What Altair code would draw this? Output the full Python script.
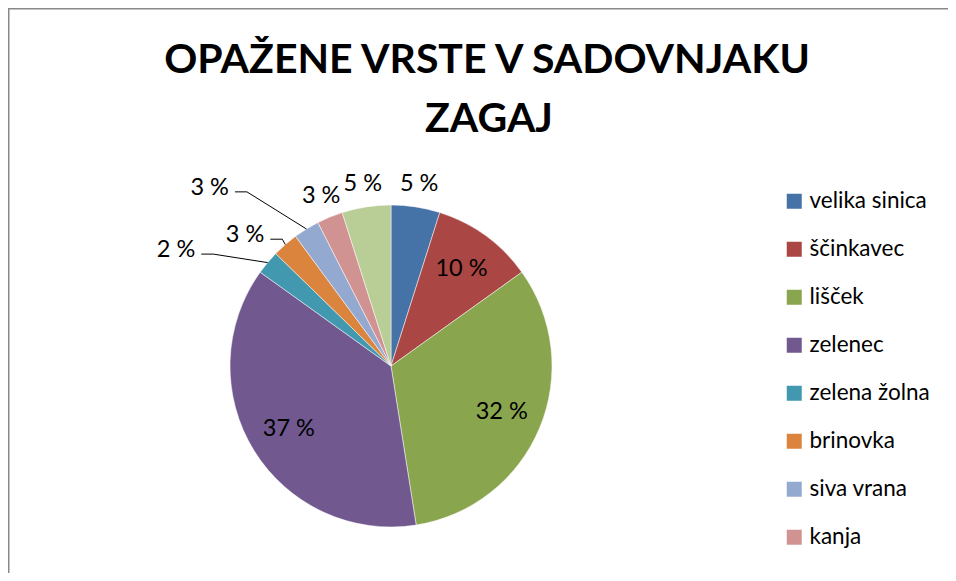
import math
import altair as alt
import pandas as pd

# ---- data ----
species = ["velika sinica", "ščinkavec", "lišček", "zelenec", "zelena žolna",
           "brinovka", "siva vrana", "kanja", "drugo"]
values = [4.9, 10.2, 32.4, 37.4, 2.4, 2.6, 2.6, 2.6, 4.9]
colors = ["#4572A7", "#AA4643", "#89A54E", "#71588F", "#4198AF",
          "#DB843D", "#93A9CF", "#D19392", "#B9CD96"]
legend_items = species[:8]
title_lines = ["OPAŽENE VRSTE V SADOVNJAKU", "ZAGAJ"]

# ---- layout / style ----
W, H = 940, 565
CX, CY, R = 383, 358, 161
placement = ["out", "in", "in", "in", "lead", "lead", "lead", "out", "out"]
# leader elbow positions (angle in degrees, radius in px)
lead_elbow = {"zelena žolna": (302.2, 210), "brinovka": (319.4, 167), "siva vrana": (320.4, 226)}
FONT = "Lato"

total = sum(values)
pct = [f"{round(v / total * 100)} %" for v in values]
df = pd.DataFrame({
    "name": species,
    "value": values,
    "idx": list(range(len(species))),
    "lab_in": [p if pl == "in" else "" for p, pl in zip(pct, placement)],
    "lab_out": [p if pl == "out" else "" for p, pl in zip(pct, placement)],
})

def polar(a_deg, r):
    a = math.radians(a_deg)
    return CX + r * math.sin(a), CY - r * math.cos(a)

line_rows, text_rows = [], []
cum = 0.0
for name, v, p, pl in zip(species, values, pct, placement):
    mid = (cum + v / 2) / total * 360
    cum += v
    if pl != "lead":
        continue
    ex, ey = polar(mid, R)
    bx, by = polar(*lead_elbow[name])
    hx = bx - 12
    line_rows += [
        {"name": name, "o": 0, "px": ex, "py": ey},
        {"name": name, "o": 1, "px": bx, "py": by},
        {"name": name, "o": 2, "px": hx, "py": by},
    ]
    text_rows.append({"name": name, "px": hx - 6, "py": by + 3, "t": p})
lines_df = pd.DataFrame(line_rows)
ltext_df = pd.DataFrame(text_rows)

theta = alt.Theta("value:Q", stack=True)
order = alt.Order("idx:Q")
cx, cy = alt.value(CX), alt.value(CY)

pie = alt.Chart(df).mark_arc(outerRadius=R, stroke="white", strokeWidth=0.5).encode(
    theta=theta, order=order, x=cx, y=cy,
    color=alt.Color(
        "name:N", sort=species,
        scale=alt.Scale(domain=species, range=colors),
        legend=alt.Legend(
            values=legend_items, orient="none", legendX=775, legendY=182, title=None,
            symbolType="square", symbolSize=225, symbolStrokeWidth=0,
            labelFont=FONT, labelFontSize=22.5, labelColor="black", labelOffset=4,
            rowPadding=25, labelLimit=300,
        ),
    ),
)

inside = alt.Chart(df).mark_text(radius=120, font=FONT, fontSize=23.5, color="black",
                                 baseline="middle").encode(
    theta=theta, order=order, x=cx, y=cy, text="lab_in:N")
outside = alt.Chart(df).mark_text(radius=184, font=FONT, fontSize=23.5, color="black",
                                  baseline="middle").encode(
    theta=theta, order=order, x=cx, y=cy, text="lab_out:N")

leaders = alt.Chart(lines_df).mark_line(color="black", strokeWidth=1).encode(
    x=alt.X("px:Q", scale=None, axis=None),
    y=alt.Y("py:Q", scale=None, axis=None),
    detail="name:N", order="o:Q")
leader_text = alt.Chart(ltext_df).mark_text(font=FONT, fontSize=23.5, color="black",
                                            align="right", baseline="alphabetic").encode(
    x=alt.X("px:Q", scale=None, axis=None),
    y=alt.Y("py:Q", scale=None, axis=None),
    text="t:N")

one = alt.Data(values=[{}])
t1 = alt.Chart(one).mark_text(text=title_lines[0], font=FONT, fontSize=41, fontWeight="bold",
                              color="black", align="center", baseline="alphabetic").encode(
    x=alt.value(479), y=alt.value(65))
t2 = alt.Chart(one).mark_text(text=title_lines[1], font=FONT, fontSize=41, fontWeight="bold",
                              color="black", align="center", baseline="alphabetic").encode(
    x=alt.value(481), y=alt.value(124))

frame_l = alt.Chart(one).mark_rule(color="#898989", strokeWidth=1.5).encode(
    x=alt.value(0.75), y=alt.value(0), y2=alt.value(H))
frame_t = alt.Chart(one).mark_rule(color="#898989", strokeWidth=1.5).encode(
    y=alt.value(0.75), x=alt.value(0), x2=alt.value(W))

chart = alt.layer(frame_l, frame_t, pie, inside, outside, leaders, leader_text, t1, t2).properties(
    width=W, height=H, padding=0, autosize="none", background="white"
).configure_view(stroke=None)

chart.save("out.html", embed_options={"renderer": "svg", "actions": False})
